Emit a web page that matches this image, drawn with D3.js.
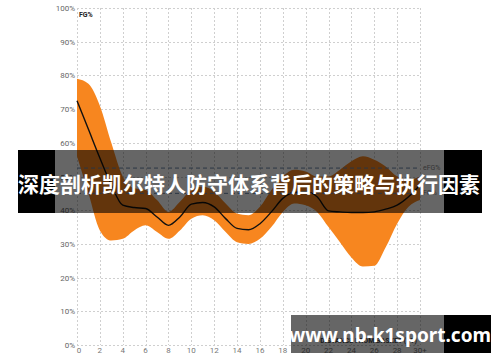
<!DOCTYPE html>
<html>
<head>
<meta charset="utf-8">
<script src="https://cdn.jsdelivr.net/npm/d3@7"></script>
<style>
  body { margin: 0; background: #fff; }
  svg { display: block; }
</style>
</head>
<body>
<script>
const width = 500;
const height = 362;

// distance from basket (ft) and FG%
const feet = d3.range(0, 31);
const fgMean = [72.5, 64, 55.5, 47.5, 41.5, 40.8, 40.5, 38, 35.5, 38, 41.8, 42.3, 41, 37.5, 34.6, 34.2,
                36, 39.5, 43.5, 45.3, 45.5, 44, 39.8, 39.5, 39.3, 39.3, 39.5, 40.3, 41.5, 44, 47.5];
const fgUpper = [79, 77.5, 71, 60, 50, 46.5, 46, 43, 39.5, 42.5, 46, 47, 45.5, 42, 39, 38.5,
                 41, 46, 50, 52, 51.5, 50, 50, 52, 54.5, 56, 55, 53, 50, 49, 50];
const fgLower = [56, 45, 34, 31, 31.5, 34, 35.5, 33.5, 31.5, 34, 37.5, 38.5, 37, 33.5, 30.5, 30,
                 31.5, 35, 39.5, 42, 41.5, 39.5, 35, 30.5, 26, 23.3, 23.5, 29, 36, 41, 43];

const refNames = ['eFG%', 'FG%'];
const refValues = [52.5, 45];

const xTicks = d3.range(0, 31, 2);
const xTickLabels = xTicks.map(d => d === 30 ? '30+' : String(d));
const yTicks = d3.range(0, 101, 10);

const title = '深度剖析凯尔特人防守体系背后的策略与执行因素';
const watermark = 'www.nb-k1sport.com';

const svg = d3.select('body').append('svg')
    .attr('width', width)
    .attr('height', height);

const x = d3.scaleLinear().domain([0, 30]).range([77, 420]);
const y = d3.scaleLinear().domain([0, 100]).range([345, 8]);

const data = feet.map((f, i) => ({ f: f, m: fgMean[i], hi: fgUpper[i], lo: fgLower[i] }));

// grid
const grid = svg.append('g').attr('stroke', '#cfcfcf').attr('stroke-dasharray', '2,2');
grid.selectAll('.gx').data(xTicks).enter().append('line')
    .attr('x1', d => Math.round(x(d)) + 0.5).attr('x2', d => Math.round(x(d)) + 0.5)
    .attr('y1', y(100)).attr('y2', y(0));
grid.selectAll('.gy').data(yTicks).enter().append('line')
    .attr('x1', x(0)).attr('x2', x(30))
    .attr('y1', d => Math.round(y(d)) + 0.5).attr('y2', d => Math.round(y(d)) + 0.5);

// y labels
svg.append('g').selectAll('text').data(yTicks).enter().append('text')
    .attr('x', 75).attr('y', d => y(d) + 3)
    .attr('text-anchor', 'end')
    .attr('font-family', 'Roboto, Arial, sans-serif')
    .attr('font-size', 8).attr('fill', '#666')
    .text(d => d + '%');

// x labels
svg.append('g').selectAll('text').data(xTicks).enter().append('text')
    .attr('x', (d, i) => x(d) + (i === 0 ? 2 : 0)).attr('y', 353)
    .attr('text-anchor', 'middle')
    .attr('font-family', 'Roboto, Arial, sans-serif')
    .attr('font-size', 8).attr('fill', '#777')
    .text((d, i) => xTickLabels[i]);

svg.append('text')
    .attr('x', 79).attr('y', 17)
    .attr('font-family', 'Roboto, Arial, sans-serif')
    .attr('font-size', 7).attr('font-weight', 'bold').attr('fill', '#222')
    .text('FG%');

svg.append('text')
    .attr('x', 417).attr('y', 343)
    .attr('text-anchor', 'end')
    .attr('font-family', 'Roboto, Arial, sans-serif')
    .attr('font-size', 7).attr('font-weight', 'bold').attr('fill', '#444')
    .text('DISTANCE FROM BASKET (FT)');

// band + average line
const area = d3.area()
    .x(d => x(d.f)).y0(d => y(d.lo)).y1(d => y(d.hi))
    .curve(d3.curveMonotoneX);
const line = d3.line()
    .x(d => x(d.f)).y(d => y(d.m))
    .curve(d3.curveMonotoneX);

svg.append('path').datum(data)
    .attr('d', area)
    .attr('fill', '#f7861f');

svg.append('path').datum(data)
    .attr('d', line)
    .attr('fill', 'none')
    .attr('stroke', '#111')
    .attr('stroke-width', 1.4);

// league reference lines
refValues.forEach((v, i) => {
  svg.append('line')
      .attr('x1', x(0)).attr('x2', x(30))
      .attr('y1', y(v)).attr('y2', y(v))
      .attr('stroke', '#6a86a8').attr('stroke-width', 1)
      .attr('stroke-dasharray', '4,3');
  svg.append('text')
      .attr('x', 423).attr('y', y(v) + 2)
      .attr('font-family', 'Roboto, Arial, sans-serif')
      .attr('font-size', 7).attr('fill', '#888')
      .text(refNames[i]);
});

// title banner
svg.append('rect').attr('x', 18).attr('y', 150).attr('width', 37).attr('height', 63).attr('fill', '#000');
svg.append('rect').attr('x', 55).attr('y', 150).attr('width', 389).attr('height', 63).attr('fill', 'rgba(0,0,0,0.6)');
svg.append('rect').attr('x', 444).attr('y', 150).attr('width', 38).attr('height', 63).attr('fill', '#000');
svg.append('text')
    .attr('x', 249).attr('y', 192)
    .attr('text-anchor', 'middle')
    .attr('font-family', '"Noto Sans CJK SC", sans-serif')
    .attr('font-size', 21).attr('font-weight', 'bold').attr('fill', '#fff')
    .text(title);

// watermark
svg.append('rect').attr('x', 291).attr('y', 315).attr('width', 153).attr('height', 38).attr('fill', 'rgba(0,0,0,0.6)');
svg.append('rect').attr('x', 444).attr('y', 315).attr('width', 47).attr('height', 38).attr('fill', '#000');
svg.append('text')
    .attr('x', 390).attr('y', 342)
    .attr('text-anchor', 'middle')
    .attr('font-family', '"Noto Sans", sans-serif')
    .attr('font-size', 19).attr('font-weight', 'bold').attr('fill', '#fff')
    .text(watermark);
</script>
</body>
</html>
